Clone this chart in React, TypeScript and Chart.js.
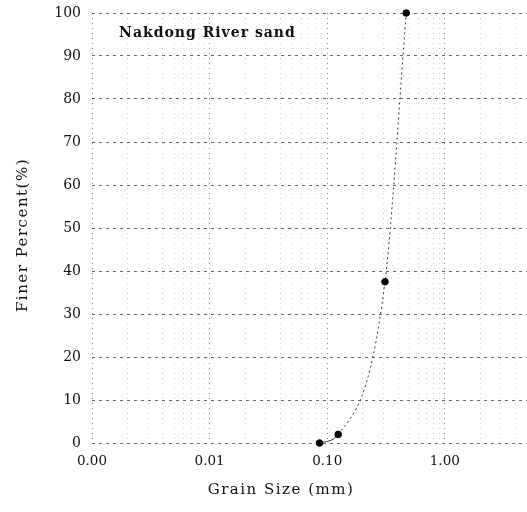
import React, { useEffect, useRef } from "react";
import { Chart, registerables } from "chart.js";

Chart.register(...registerables);

const grainSize = [0.086, 0.124, 0.31, 0.47];
const finerPercent = [0, 2, 37.5, 100];
const xMajorTicks = [0.001, 0.01, 0.1, 1];
const yTicks = [0, 10, 20, 30, 40, 50, 60, 70, 80, 90, 100];
const sampleLabel = "Nakdong River sand";
const labelPos = { x: 0.0017, y: 95.3 };
const xTitle = "Grain Size (mm)";
const yTitle = "Finer Percent(%)";

const FONT = "'DejaVu Serif', 'Liberation Serif', serif";

export default function App() {
  const ref = useRef<HTMLCanvasElement | null>(null);
  useEffect(() => {
    document.body.style.margin = "0";
    document.body.style.overflow = "hidden";
    const canvas = ref.current;
    if (!canvas) return;
    const minorTicks: number[] = [];
    xMajorTicks.forEach((d) => {
      for (let m = 1; m <= 9; m++) {
        const v = d * m;
        if (v <= 5) minorTicks.push(v);
      }
    });
    const textPlugin = {
      id: "texts",
      afterDraw(chart: any) {
        const { ctx, scales, chartArea } = chart;
        ctx.save();
        ctx.fillStyle = "#111";
        (ctx as any).letterSpacing = "1px";
        ctx.font = "bold 14px " + FONT;
        ctx.textAlign = "left";
        ctx.textBaseline = "middle";
        ctx.fillText(
          sampleLabel,
          scales.x.getPixelForValue(labelPos.x),
          scales.y.getPixelForValue(labelPos.y)
        );
        (ctx as any).letterSpacing = "1.5px";
        ctx.font = "15px " + FONT;
        ctx.textAlign = "center";
        ctx.fillText(xTitle, 281, 490);
        ctx.translate(23, (chartArea.top + chartArea.bottom) / 2 + 7);
        ctx.rotate(-Math.PI / 2);
        ctx.fillText(yTitle, 0, 0);
        ctx.restore();
      },
    };
    const chart = new Chart(canvas, {
      type: "line",
      data: {
        datasets: [
          {
            data: grainSize.map((g, i) => ({ x: g, y: finerPercent[i] })),
            borderColor: "#333",
            borderWidth: 1,
            borderDash: [2, 3],
            cubicInterpolationMode: "monotone",
            pointRadius: 3.3,
            pointBackgroundColor: "#000",
            pointBorderColor: "#000",
            clip: false,
            segment: {
              borderDash: (c: any) => (c.p0DataIndex === 0 ? [] : [2, 3]),
            },
          } as any,
        ],
      },
      options: {
        animation: false,
        responsive: false,
        maintainAspectRatio: false,
        layout: {
          autoPadding: false,
          padding: { top: 13, right: 0, left: 0, bottom: 0 },
        },
        plugins: { legend: { display: false }, tooltip: { enabled: false } },
        scales: {
          x: {
            type: "logarithmic",
            min: 0.001,
            max: 5,
            afterBuildTicks: (axis: any) => {
              axis.ticks = minorTicks.map((v) => ({ value: v }));
            },
            afterFit: (axis: any) => {
              axis.height = 69;
              axis.paddingLeft = 0;
              axis.paddingRight = 0;
            },
            ticks: {
              autoSkip: false,
              maxRotation: 0,
              padding: 10,
              color: "#111",
              font: { family: FONT, size: 13.5 },
              callback: (v: any) =>
                xMajorTicks.includes(Number(v)) ? Number(v).toFixed(2) : "",
            },
            grid: {
              drawTicks: false,
              color: (c: any) =>
                c.tick && xMajorTicks.includes(c.tick.value)
                  ? "rgba(0,0,0,0.45)"
                  : "rgba(0,0,0,0.18)",
              lineWidth: 1,
            },
            border: { display: false, dash: [1, 4] },
          } as any,
          y: {
            min: 0,
            max: 100,
            afterBuildTicks: (axis: any) => {
              axis.ticks = yTicks.map((v) => ({ value: v }));
            },
            afterFit: (axis: any) => {
              axis.width = 92;
              axis.paddingTop = 0;
              axis.paddingBottom = 0;
            },
            ticks: {
              padding: 11,
              color: "#111",
              font: { family: FONT, size: 14 },
            },
            grid: {
              drawTicks: false,
              color: "rgba(0,0,0,0.6)",
              lineWidth: 1,
            },
            border: { display: false, dash: [3, 4] },
          } as any,
        },
      },
      plugins: [textPlugin],
    });
    return () => chart.destroy();
  }, []);
  return (
    <div style={{ width: 527, height: 512, overflow: "hidden" }}>
      <canvas
        ref={ref}
        width={527}
        height={512}
        style={{ display: "block", width: 527, height: 512 }}
      />
    </div>
  );
}
